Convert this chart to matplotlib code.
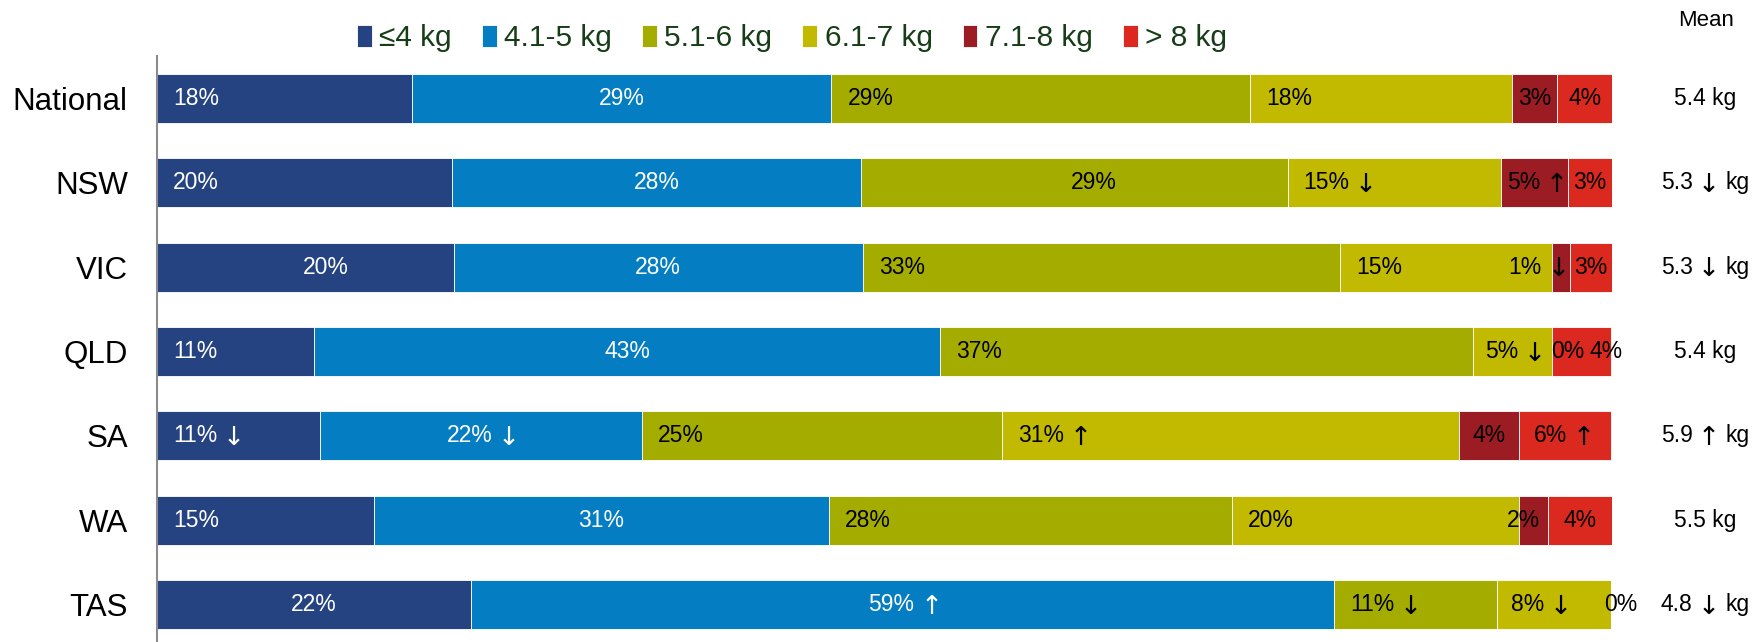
import matplotlib
matplotlib.use('Agg')
import matplotlib.pyplot as plt

plt.rcParams['font.family'] = ['Liberation Sans', 'DejaVu Sans']

# dados ------------------------------------------------------------------
regioes = ['National', 'NSW', 'VIC', 'QLD', 'SA', 'WA', 'TAS']
faixas = ['≤4 kg', '4.1-5 kg', '5.1-6 kg', '6.1-7 kg', '7.1-8 kg', '> 8 kg']

ate4 = [17.55, 20.3, 20.4, 10.8, 11.2, 14.9, 21.6]
de4a5 = [28.8, 28.1, 28.1, 43.0, 22.1, 31.3, 59.3]
de5a6 = [28.8, 29.3, 32.8, 36.65, 24.8, 27.7, 11.2]
de6a7 = [18.0, 14.7, 14.6, 5.45, 31.4, 19.7, 7.8]
de7a8 = [3.1, 4.6, 1.2, 0.0, 4.1, 2.0, 0.0]
mais8 = [3.8, 3.0, 2.9, 4.05, 6.3, 4.4, 0.0]

# setas de mudança significativa
setas = [
    ['', '', '', '', '', ''],
    ['', '', '', '↓', '↑', ''],
    ['', '', '', '', '↓', ''],
    ['', '', '', '↓', '', ''],
    ['↓', '↓', '', '↑', '', '↑'],
    ['', '', '', '', '', ''],
    ['', '↑', '↓', '↓', '', ''],
]

media = [5.4, 5.3, 5.3, 5.4, 5.9, 5.5, 4.8]
media_seta = ['', '↓', '↓', '', '↑', '', '↓']

# estilo -----------------------------------------------------------------
cores = ['#264381', '#047DC2', '#A5AC00', '#C1BA00', '#9B1D23', '#DB291F']
cor_texto = ['white', 'white', 'black', 'black', 'black', 'black']

# posição do rótulo: l = à esquerda, c = centro
modo = ['lcllcc', 'lcclcc', 'ccllcc', 'lclccc', 'lcllcc', 'lcllcc', 'cclccc']
# deslocamentos extras (pixels)
desloc = {(1, 2): 19, (2, 0): 20, (3, 4): 15, (3, 5): 24, (2, 4): -25,
          (4, 5): -3, (5, 4): -10, (6, 3): -15, (6, 5): 10}
ocultos = {(6, 4)}

series = [ate4, de4a5, de5a6, de6a7, de7a8, mais8]
FS = 16.5
FS_SETA = 19
PX = 0.72  # pixels -> pontos (dpi 100)

fig = plt.figure(figsize=(17.54, 6.42), dpi=100)
ax = fig.add_axes([157 / 1754, 0, 1455 / 1754, 1 - 56 / 642])


def seta_depois(t, seta, cor, gap=4):
    ax.annotate(seta, xy=(1, 0.5), xycoords=t, xytext=(gap, -1.5), textcoords='offset points',
                ha='left', va='center', fontsize=FS_SETA, color=cor, family='DejaVu Sans',
                annotation_clip=False)


y = list(range(len(regioes)))
esq = [0.0] * len(regioes)
for j, s in enumerate(series):
    ax.barh(y, s, left=esq, height=0.58, color=cores[j], edgecolor='white',
            linewidth=0.6, label=faixas[j])
    for i in range(len(regioes)):
        if (i, j) in ocultos:
            esq[i] += s[i]
            continue
        txt = f'{round(s[i])}%'
        seta = setas[i][j]
        dx = desloc.get((i, j), 0) * PX
        if modo[i][j] == 'l':
            x, ha, dx = esq[i], 'left', dx + 16 * PX
        else:
            x, ha = esq[i] + s[i] / 2, 'center'
            if seta:
                dx -= 8
        t = ax.annotate(txt, xy=(x, i), xytext=(dx, 0), textcoords='offset points',
                        ha=ha, va='center', fontsize=FS, color=cor_texto[j],
                        annotation_clip=False)
        if seta:
            seta_depois(t, seta, cor_texto[j])
        esq[i] += s[i]

# coluna da média
xm = 106.4
for i in range(len(regioes)):
    if media_seta[i]:
        a = ax.annotate(media_seta[i], xy=(xm, i), xytext=(4 * PX, -1.5), textcoords='offset points',
                        ha='center', va='center', fontsize=FS_SETA, family='DejaVu Sans',
                        annotation_clip=False)
        ax.annotate(f'{media[i]:.1f}', xy=(0, 0.5), xycoords=a, xytext=(-4, 1.5),
                    textcoords='offset points', ha='right', va='center', fontsize=FS,
                    annotation_clip=False)
        ax.annotate('kg', xy=(1, 0.5), xycoords=a, xytext=(4, 1.5),
                    textcoords='offset points', ha='left', va='center', fontsize=FS,
                    annotation_clip=False)
    else:
        ax.text(xm, i, f'{media[i]:.1f} kg', ha='center', va='center', fontsize=FS, clip_on=False)
fig.text(1706 / 1754, 1 - 20 / 642, 'Mean', ha='center', va='center', fontsize=16)

ax.set_xlim(0, 100)
ax.set_ylim(6.445, -0.504)
ax.set_yticks(y)
ax.set_yticklabels(regioes, fontsize=22.5)
ax.tick_params(axis='y', length=0, pad=21)
ax.set_xticks([])
for lado in ['top', 'right', 'bottom']:
    ax.spines[lado].set_visible(False)
ax.spines['left'].set_color('#8c8c8c')
ax.spines['left'].set_linewidth(1.5)

fig.legend(loc='center', bbox_to_anchor=(792 / 1754, 1 - 38 / 642), ncol=6,
           frameon=False, fontsize=21.5, handlelength=0.5, handleheight=0.75,
           handletextpad=0.25, columnspacing=1.0, labelcolor='#173d17',
           borderpad=0, borderaxespad=0)

plt.savefig('out.png', dpi=100)
